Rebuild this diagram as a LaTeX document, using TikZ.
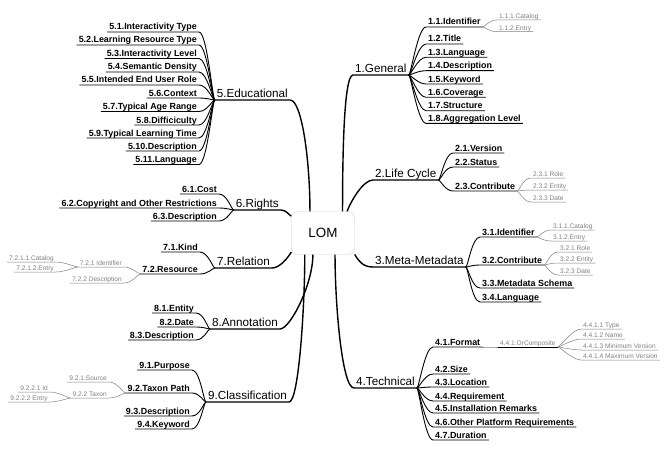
\documentclass[tikz,border=0pt]{standalone}
\usepackage{fontspec}
\setmainfont{Liberation Sans}
\tikzset{
  topic/.style={font=\fontsize{11.7}{13}\selectfont,inner xsep=2pt,inner ysep=0.5pt,text depth=1.8pt},
  sub/.style={font=\fontsize{8.9}{10}\selectfont\bfseries,inner xsep=2pt,inner ysep=0.4pt,text depth=1.4pt},
  subsub/.style={font=\fontsize{6.6}{7}\selectfont,text=gray,inner xsep=2pt,inner ysep=0.3pt,text depth=1pt},
  trunk/.style={line width=1.4pt},
  twig/.style={line width=0.9pt,out=0,in=180,out distance=2pt,in distance=8pt},
  twigl/.style={line width=0.9pt,out=0,in=180,out distance=8pt,in distance=2pt},
  leaf/.style={twig,line width=0.5pt,draw=gray},
  leafl/.style={twigl,line width=0.5pt,draw=gray}
}
\begin{document}
\begin{tikzpicture}[x=1pt,y=1pt]
\useasboundingbox[fill=white] (0,0) rectangle (667,-452);
\node[draw=gray!40,rounded corners=6pt,minimum width=63pt,minimum height=43pt,font=\fontsize{13.4}{15}\selectfont] (lom) at (323,-233) {LOM};
%
\node[topic,anchor=south west] (gen) at (353,-75) {1.General};
\node[topic,anchor=south west] (life) at (373,-180) {2.Life Cycle};
\node[topic,anchor=south west] (meta) at (373,-267) {3.Meta-Metadata};
\node[topic,anchor=south west] (tech) at (354,-388) {4.Technical};
\node[topic,anchor=south east] (edu) at (290,-100) {5.Educational};
\node[topic,anchor=south east] (rights) at (281,-210) {6.Rights};
\node[topic,anchor=south east] (rel) at (272,-268) {7.Relation};
\node[topic,anchor=south east] (ann) at (280,-329) {8.Annotation};
\node[topic,anchor=south east] (cls) at (289,-402) {9.Classification};
%
\draw[trunk] (lom.48) to[out=90,in=180,out distance=40pt,in distance=10pt] (gen.south west) -- (gen.south east);
\draw[trunk] (lom.42) to[out=70,in=180,out distance=10pt,in distance=10pt] (life.south west) -- (life.south east);
\draw[trunk] (lom.-34) to[out=-60,in=180,out distance=8pt,in distance=10pt] (meta.south west) -- (meta.south east);
\draw[trunk] (lom.-61) to[out=-90,in=180,out distance=50pt,in distance=12pt] (tech.south west) -- (tech.south east);
\draw[trunk] (edu.south west) -- (edu.south east) to[out=0,in=90,out distance=12pt,in distance=50pt] (lom.121);
\draw[trunk] (rights.south west) -- (rights.south east) to[out=0,in=150,out distance=5pt,in distance=3pt] (lom.152);
\draw[trunk] (rel.south west) -- (rel.south east) to[out=0,in=-120,out distance=8pt,in distance=6pt] (lom.211);
\draw[trunk] (ann.south west) -- (ann.south east) to[out=0,in=-90,out distance=10pt,in distance=30pt] (lom.245);
\draw[trunk] (cls.south west) -- (cls.south east) to[out=0,in=-90,out distance=10pt,in distance=50pt] (lom.230);
%
\node[sub,anchor=south west] (g1) at (426,-27) {1.1.Identifier};
\node[sub,anchor=south west] (g2) at (426,-44) {1.2.Title};
\node[sub,anchor=south west] (g3) at (426,-57.3) {1.3.Language};
\node[sub,anchor=south west] (g4) at (426,-70.7) {1.4.Description};
\node[sub,anchor=south west] (g5) at (426,-84) {1.5.Keyword};
\node[sub,anchor=south west] (g6) at (426,-97.3) {1.6.Coverage};
\node[sub,anchor=south west] (g7) at (426,-110.7) {1.7.Structure};
\node[sub,anchor=south west] (g8) at (426,-123.3) {1.8.Aggregation Level};
\draw[twig] (gen.south east) to (g1.south west) -- (g1.south east);
\draw[twig] (gen.south east) to (g2.south west) -- (g2.south east);
\draw[twig] (gen.south east) to (g3.south west) -- (g3.south east);
\draw[twig] (gen.south east) to (g4.south west) -- (g4.south east);
\draw[twig] (gen.south east) to (g5.south west) -- (g5.south east);
\draw[twig] (gen.south east) to (g6.south west) -- (g6.south east);
\draw[twig] (gen.south east) to (g7.south west) -- (g7.south east);
\draw[twig] (gen.south east) to (g8.south west) -- (g8.south east);
\node[subsub,anchor=south west] (g11) at (497,-20) {1.1.1.Catalog};
\node[subsub,anchor=south west] (g12) at (497,-31.7) {1.1.2.Entry};
\draw[leaf] (g1.south east) to (g11.south west) -- (g11.south east);
\draw[leaf] (g1.south east) to (g12.south west) -- (g12.south east);
%
\node[sub,anchor=south west] (l1) at (453,-153) {2.1.Version};
\node[sub,anchor=south west] (l2) at (453,-167) {2.2.Status};
\node[sub,anchor=south west] (l3) at (453,-191) {2.3.Contribute};
\draw[twig] (life.south east) to (l1.south west) -- (l1.south east);
\draw[twig] (life.south east) to (l2.south west) -- (l2.south east);
\draw[twig] (life.south east) to (l3.south west) -- (l3.south east);
\node[subsub,anchor=south west] (l31) at (531,-178) {2.3.1 Role};
\node[subsub,anchor=south west] (l32) at (531,-190) {2.3.2 Entity};
\node[subsub,anchor=south west] (l33) at (531,-202) {2.3.3 Date};
\draw[leaf] (l3.south east) to (l31.south west) -- (l31.south east);
\draw[leaf] (l3.south east) to (l32.south west) -- (l32.south east);
\draw[leaf] (l3.south east) to (l33.south west) -- (l33.south east);
%
\node[sub,anchor=south west] (m1) at (480,-237) {3.1.Identifier};
\node[sub,anchor=south west] (m2) at (480,-265) {3.2.Contribute};
\node[sub,anchor=south west] (m3) at (480,-288) {3.3.Metadata Schema};
\node[sub,anchor=south west] (m4) at (480,-302) {3.4.Language};
\draw[twig] (meta.south east) to (m1.south west) -- (m1.south east);
\draw[twig] (meta.south east) to (m2.south west) -- (m2.south east);
\draw[twig] (meta.south east) to (m3.south west) -- (m3.south east);
\draw[twig] (meta.south east) to (m4.south west) -- (m4.south east);
\node[subsub,anchor=south west] (m11) at (551,-230) {3.1.1.Catalog};
\node[subsub,anchor=south west] (m12) at (551,-241) {3.1.2.Entry};
\draw[leaf] (m1.south east) to (m11.south west) -- (m11.south east);
\draw[leaf] (m1.south east) to (m12.south west) -- (m12.south east);
\node[subsub,anchor=south west] (m21) at (558,-252) {3.2.1 Role};
\node[subsub,anchor=south west] (m22) at (558,-263) {3.2.2 Entity};
\node[subsub,anchor=south west] (m23) at (558,-275) {3.2.3 Date};
\draw[leaf] (m2.south east) to (m21.south west) -- (m21.south east);
\draw[leaf] (m2.south east) to (m22.south west) -- (m22.south east);
\draw[leaf] (m2.south east) to (m23.south west) -- (m23.south east);
%
\node[sub,anchor=south west] (t1) at (433,-347) {4.1.Format};
\node[sub,anchor=south west] (t2) at (433,-374) {4.2.Size};
\node[sub,anchor=south west] (t3) at (433,-387) {4.3.Location};
\node[sub,anchor=south west] (t4) at (433,-401) {4.4.Requirement};
\node[sub,anchor=south west] (t5) at (433,-413) {4.5.Installation Remarks};
\node[sub,anchor=south west] (t6) at (433,-427) {4.6.Other Platform Requirements};
\node[sub,anchor=south west] (t7) at (433,-440) {4.7.Duration};
\draw[twig] (tech.south east) to (t1.south west) -- (t1.south east);
\draw[twig] (tech.south east) to (t2.south west) -- (t2.south east);
\draw[twig] (tech.south east) to (t3.south west) -- (t3.south east);
\draw[twig] (tech.south east) to (t4.south west) -- (t4.south east);
\draw[twig] (tech.south east) to (t5.south west) -- (t5.south east);
\draw[twig] (tech.south east) to (t6.south west) -- (t6.south east);
\draw[twig] (tech.south east) to (t7.south west) -- (t7.south east);
\node[subsub,anchor=south west] (oc) at (498,-347) {4.4.1.OrComposite};
\draw[leaf] (t1.south east) to (oc.south west);
\draw[line width=0.9pt] (oc.south west) -- (oc.south east);
\node[subsub,anchor=south west] (oc1) at (581,-329) {4.4.1.1 Type};
\node[subsub,anchor=south west] (oc2) at (581,-339) {4.4.1.2 Name};
\node[subsub,anchor=south west] (oc3) at (581,-350) {4.4.1.3 Minimum Version};
\node[subsub,anchor=south west] (oc4) at (581,-360) {4.4.1.4 Maximum Version};
\draw[leaf] (oc.south east) to (oc1.south west) -- (oc1.south east);
\draw[leaf] (oc.south east) to (oc2.south west) -- (oc2.south east);
\draw[leaf] (oc.south east) to (oc3.south west) -- (oc3.south east);
\draw[leaf] (oc.south east) to (oc4.south west) -- (oc4.south east);
%
\node[sub,anchor=south east] (e1) at (199,-32) {5.1.Interactivity Type};
\node[sub,anchor=south east] (e2) at (199,-45) {5.2.Learning Resource Type};
\node[sub,anchor=south east] (e3) at (199,-58.5) {5.3.Interactivity Level};
\node[sub,anchor=south east] (e4) at (199,-72) {5.4.Semantic Density};
\node[sub,anchor=south east] (e5) at (199,-85) {5.5.Intended End User Role};
\node[sub,anchor=south east] (e6) at (199,-98) {5.6.Context};
\node[sub,anchor=south east] (e7) at (199,-111.5) {5.7.Typical Age Range};
\node[sub,anchor=south east] (e8) at (199,-125) {5.8.Difficiculty};
\node[sub,anchor=south east] (e9) at (199,-138) {5.9.Typical Learning Time};
\node[sub,anchor=south east] (e10) at (199,-151) {5.10.Description};
\node[sub,anchor=south east] (e11) at (199,-164.5) {5.11.Language};
\draw[twigl] (e1.south west) -- (e1.south east) to (edu.south west);
\draw[twigl] (e2.south west) -- (e2.south east) to (edu.south west);
\draw[twigl] (e3.south west) -- (e3.south east) to (edu.south west);
\draw[twigl] (e4.south west) -- (e4.south east) to (edu.south west);
\draw[twigl] (e5.south west) -- (e5.south east) to (edu.south west);
\draw[twigl] (e6.south west) -- (e6.south east) to (edu.south west);
\draw[twigl] (e7.south west) -- (e7.south east) to (edu.south west);
\draw[twigl] (e8.south west) -- (e8.south east) to (edu.south west);
\draw[twigl] (e9.south west) -- (e9.south east) to (edu.south west);
\draw[twigl] (e10.south west) -- (e10.south east) to (edu.south west);
\draw[twigl] (e11.south west) -- (e11.south east) to (edu.south west);
%
\node[sub,anchor=south east] (r1) at (219,-194) {6.1.Cost};
\node[sub,anchor=south east] (r2) at (219,-208) {6.2.Copyright and Other Restrictions};
\node[sub,anchor=south east] (r3) at (219,-221) {6.3.Description};
\draw[twigl] (r1.south west) -- (r1.south east) to (rights.south west);
\draw[twigl] (r2.south west) -- (r2.south east) to (rights.south west);
\draw[twigl] (r3.south west) -- (r3.south east) to (rights.south west);
%
\node[sub,anchor=south east] (rl1) at (200,-252) {7.1.Kind};
\node[sub,anchor=south east] (rl2) at (200,-274) {7.2.Resource};
\draw[twigl] (rl1.south west) -- (rl1.south east) to (rel.south west);
\draw[twigl] (rl2.south west) -- (rl2.south east) to (rel.south west);
\node[subsub,anchor=south east] (rl21) at (124,-267) {7.2.1 Identifier};
\node[subsub,anchor=south east] (rl22) at (124,-283) {7.2.2 Description};
\draw[leafl] (rl21.south west) -- (rl21.south east) to (rl2.south west);
\draw[leafl] (rl22.south west) -- (rl22.south east) to (rl2.south west);
\node[subsub,anchor=south east] (rl211) at (56,-262) {7.2.1.1.Catalog};
\node[subsub,anchor=south east] (rl212) at (56,-272) {7.2.1.2.Entry};
\draw[leafl] (rl211.south west) -- (rl211.south east) to (rl21.south west);
\draw[leafl] (rl212.south west) -- (rl212.south east) to (rl21.south west);
%
\node[sub,anchor=south east] (a1) at (196,-313) {8.1.Entity};
\node[sub,anchor=south east] (a2) at (196,-327) {8.2.Date};
\node[sub,anchor=south east] (a3) at (196,-340) {8.3.Description};
\draw[twigl] (a1.south west) -- (a1.south east) to (ann.south west);
\draw[twigl] (a2.south west) -- (a2.south east) to (ann.south west);
\draw[twigl] (a3.south west) -- (a3.south east) to (ann.south west);
%
\node[sub,anchor=south east] (c1) at (192,-370) {9.1.Purpose};
\node[sub,anchor=south east] (c2) at (192,-393) {9.2.Taxon Path};
\node[sub,anchor=south east] (c3) at (192,-416) {9.3.Description};
\node[sub,anchor=south east] (c4) at (192,-429) {9.4.Keyword};
\draw[twigl] (c1.south west) -- (c1.south east) to (cls.south west);
\draw[twigl] (c2.south west) -- (c2.south east) to (cls.south west);
\draw[twigl] (c3.south west) -- (c3.south east) to (cls.south west);
\draw[twigl] (c4.south west) -- (c4.south east) to (cls.south west);
\node[subsub,anchor=south east] (c21) at (109,-382) {9.2.1.Source};
\node[subsub,anchor=south east] (c22) at (109,-398) {9.2.2 Taxon};
\draw[leafl] (c21.south west) -- (c21.south east) to (c2.south west);
\draw[leafl] (c22.south west) -- (c22.south east) to (c2.south west);
\node[subsub,anchor=south east] (c221) at (50,-392) {9.2.2.1 Id};
\node[subsub,anchor=south east] (c222) at (50,-402) {9.2.2.2 Entry};
\draw[leafl] (c221.south west) -- (c221.south east) to (c22.south west);
\draw[leafl] (c222.south west) -- (c222.south east) to (c22.south west);
%
\end{tikzpicture}
\end{document}
